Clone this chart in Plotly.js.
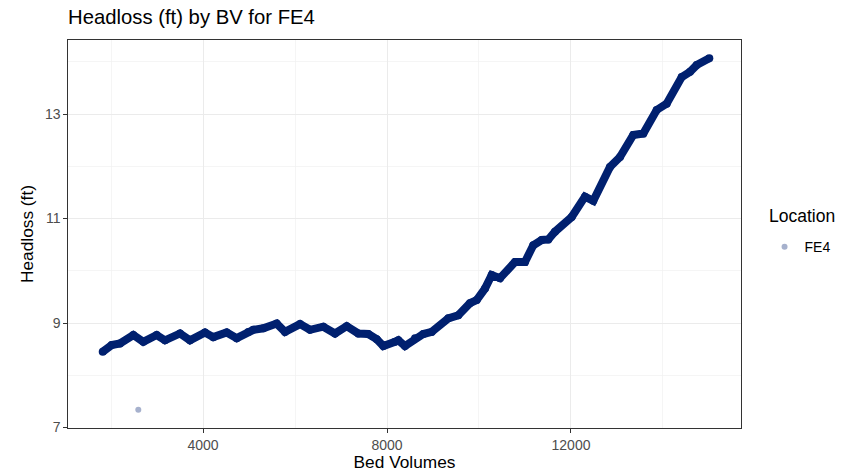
<!DOCTYPE html>
<html>
<head>
<meta charset="utf-8">
<script src="https://cdn.plot.ly/plotly-3.0.1.min.js"></script>
<style>html,body{margin:0;padding:0;background:#fff}#chart{width:843px;height:472px}</style>
</head>
<body>
<div id="chart"></div>
<script>
// Bed volumes along the dense FE4 series
var bedVolumes = [1820, 2015, 2196, 2485, 2702, 2993, 3174, 3500, 3717, 4043, 4224, 4515, 4733, 4985,
  5093, 5311, 5602, 5783, 6109, 6326, 6615, 6870, 7124, 7376, 7593, 7776, 7920, 8174,
  8246, 8391, 8609, 8789, 8972, 9333, 9550, 9804, 9950, 10130, 10276, 10457, 10783, 11000,
  11180, 11363, 11507, 11652, 12015, 12304, 12485, 12848, 13065, 13354, 13572, 13863,
  14080, 14407, 14587, 14733, 15007];
var headloss = [8.45, 8.58, 8.61, 8.77, 8.64, 8.77, 8.67, 8.80, 8.67, 8.82, 8.73, 8.82, 8.71, 8.83,
  8.87, 8.90, 8.99, 8.83, 8.98, 8.87, 8.93, 8.80, 8.94, 8.80, 8.79, 8.69, 8.56, 8.64,
  8.67, 8.56, 8.71, 8.79, 8.83, 9.09, 9.15, 9.38, 9.44, 9.66, 9.92, 9.86, 10.17, 10.17,
  10.49, 10.59, 10.60, 10.75, 11.03, 11.42, 11.34, 11.99, 12.18, 12.60, 12.63, 13.08,
  13.20, 13.71, 13.81, 13.94, 14.07];
// isolated reading
var outlierBV = [2593];
var outlierHeadloss = [7.34];
var seriesName = "FE4";
var legendTitle = "Location";
var xTicks = [4000, 8000, 12000];
var xMinor = [2000, 6000, 10000, 14000];
var yTicks = [7, 9, 11, 13];
var yMinor = [8, 10, 12, 14];

var navy = "#00206f";
var traces = [
  {
    x: bedVolumes, y: headloss, type: "scatter", mode: "lines+markers",
    line: {color: navy, width: 8}, marker: {color: navy, size: 8},
    showlegend: false, hoverinfo: "x+y"
  },
  {
    x: outlierBV, y: outlierHeadloss, type: "scatter", mode: "markers",
    name: seriesName, marker: {color: navy, size: 6, opacity: 0.35}
  }
];

var font = "Liberation Sans, Arial, sans-serif";
var layout = {
  width: 843, height: 472,
  margin: {l: 68, r: 102, t: 40, b: 44, autoexpand: false},
  paper_bgcolor: "#ffffff", plot_bgcolor: "#ffffff",
  font: {family: font, color: "#000"},
  title: {text: "Headloss (ft) by BV for FE4", x: 68/843, xanchor: "left", y: 1 - 17/472, yanchor: "middle",
    font: {size: 20.3, color: "#000", family: font}},
  xaxis: {
    range: [1065, 15696], tickvals: xTicks, ticktext: xTicks.map(String), automargin: false,
    showgrid: true, gridcolor: "#ebebeb", gridwidth: 1,
    minor: {tickmode: "array", tickvals: xMinor, showgrid: true, gridcolor: "#f1f1f1", gridwidth: 0.7, ticks: ""},
    ticks: "outside", ticklen: 3.7, tickcolor: "#333333", tickwidth: 1,
    tickfont: {size: 14, color: "#4d4d4d", family: font},
    zeroline: false, showline: true, linecolor: "#333333", linewidth: 1, mirror: true,
    title: {text: "Bed Volumes", font: {size: 17.3, color: "#000", family: font}, standoff: 2}
  },
  yaxis: {
    range: [6.99, 14.42], tickvals: yTicks, ticktext: yTicks.map(String), automargin: false,
    showgrid: true, gridcolor: "#ebebeb", gridwidth: 1,
    minor: {tickmode: "array", tickvals: yMinor, showgrid: true, gridcolor: "#f1f1f1", gridwidth: 0.7, ticks: ""},
    ticks: "outside", ticklen: 3.7, tickcolor: "#333333", tickwidth: 1,
    tickfont: {size: 14, color: "#4d4d4d", family: font},
    zeroline: false, showline: true, linecolor: "#333333", linewidth: 1, mirror: true,
    title: {text: "Headloss (ft)", font: {size: 17.3, color: "#000", family: font}, standoff: 6}
  },
  legend: {
    x: 1.035, xanchor: "left", y: 0.466, yanchor: "middle",
    font: {size: 14, color: "#000", family: font},
    itemwidth: 30, bgcolor: "rgba(0,0,0,0)"
  },
  annotations: [{
    text: legendTitle, xref: "paper", yref: "paper", x: 1.039, xanchor: "left",
    y: 0.5464, yanchor: "middle", showarrow: false,
    font: {size: 17.5, color: "#000", family: font}
  }],
  showlegend: true
};

Plotly.newPlot("chart", traces, layout, {displayModeBar: false, staticPlot: true});
</script>
</body>
</html>
